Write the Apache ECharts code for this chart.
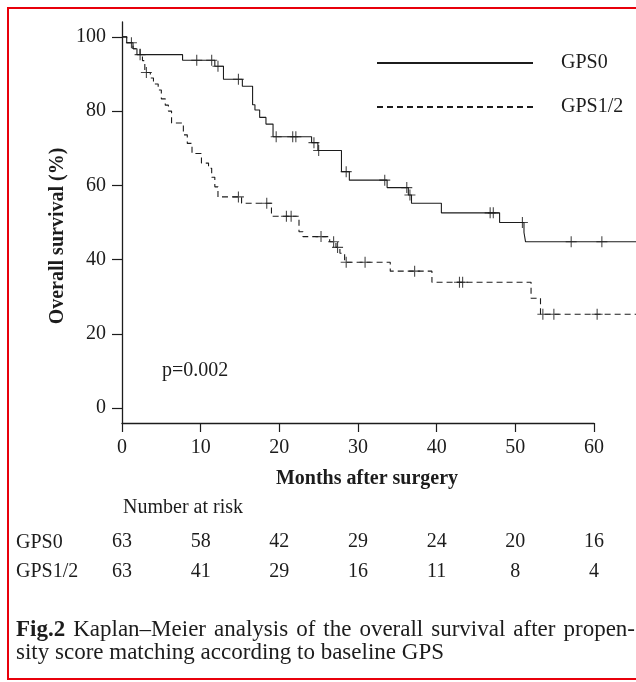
<!DOCTYPE html>
<html><head><meta charset="utf-8">
<script src="https://cdn.jsdelivr.net/npm/echarts@6/dist/echarts.min.js"></script>
<style>html,body{margin:0;padding:0;background:#fff}#c{width:636px;height:682px}</style>
</head><body><div id="c"></div>
<script>
// ---- data ----
const gps0Times = [0, 0.6, 1.4, 1.9, 7.7, 11.8, 12.9, 15.3, 16.6, 16.9, 17.5, 18.3, 19.2, 24.1, 24.9, 27.9, 28.9, 33.7, 36.4, 36.8, 40.6, 48.0, 51.1, 51.3, 65.34];
const gps0Surv  = [100, 98.4, 96.8, 95.2, 93.7, 92.1, 88.6, 86.7, 81.7, 80.3, 78.3, 76.5, 73.1, 71.5, 69.4, 63.7, 61.4, 59.4, 57.4, 55.2, 52.6, 50.0, 47.3, 44.8, 44.8];
const gps0CensorTimes = [1.2, 9.5, 11.4, 12.2, 14.8, 19.6, 21.7, 22.1, 24.4, 25.0, 28.5, 33.4, 36.2, 36.6, 46.8, 47.2, 50.9, 57.1, 61.0];
const gps0CensorSurv  = [98.4, 93.7, 93.7, 92.1, 88.6, 73.1, 73.1, 73.1, 71.5, 69.4, 63.7, 61.4, 59.4, 57.4, 52.6, 52.6, 50.0, 44.8, 44.8];

const gps12Times = [0, 0.6, 1.4, 2.3, 2.6, 2.9, 3.6, 4.0, 4.6, 5.0, 5.5, 5.9, 6.3, 7.8, 8.3, 8.9, 10.1, 11.0, 11.4, 11.8, 12.2, 15.2, 19.0, 22.5, 23.0, 26.4, 27.2, 27.7, 28.3, 34.1, 39.4, 52.0, 53.2, 65.34];
const gps12Surv  = [100, 98.4, 96.8, 95.2, 93.6, 90.4, 88.9, 87.3, 85.7, 83.3, 81.6, 80.0, 76.8, 73.6, 71.3, 68.6, 66.0, 64.6, 62.2, 59.6, 56.9, 55.2, 51.7, 47.5, 46.2, 44.8, 43.3, 41.7, 39.3, 36.9, 33.9, 29.6, 25.3, 25.3];
const gps12CensorTimes = [2.3, 3.1, 14.8, 18.4, 20.9, 21.5, 25.3, 26.9, 27.4, 28.5, 30.9, 37.2, 42.9, 43.3, 53.5, 54.9, 60.4];
const gps12CensorSurv  = [95.2, 90.4, 56.9, 55.2, 51.7, 51.7, 46.2, 44.8, 43.3, 39.3, 39.3, 36.9, 33.9, 33.9, 25.3, 25.3, 25.3];

const seriesNames = ['GPS0', 'GPS1/2'];
const xTickValues = [0, 10, 20, 30, 40, 50, 60];
const yTickValues = [0, 20, 40, 60, 80, 100];
const riskGPS0  = [63, 58, 42, 29, 24, 20, 16];
const riskGPS12 = [63, 41, 29, 16, 11, 8, 4];
const xTitle = 'Months after surgery';
const yTitle = 'Overall survival (%)';
const pText = 'p=0.002';
const riskTitle = 'Number at risk';
const captionBold = 'Fig.2';
const captionLine1 = 'Kaplan\u2013Meier analysis of the overall survival after propen-';
const captionLine2 = 'sity score matching according to baseline GPS';

// ---- helpers ----
const pairs = (a, b) => a.map((v, i) => [v, b[i]]);
const FONT = '"Liberation Serif", "Times New Roman", serif';
const INK = '#1c1c1c';
const plus = 'path://M0,5L10,5M5,0L5,10';

const chart = echarts.init(document.getElementById('c'), null, {renderer: 'canvas'});

// caption justification (line 1 is justified between 16 and 635)
const ctx = document.createElement('canvas').getContext('2d');
const measure = (t, bold) => { ctx.font = (bold ? 'bold ' : '') + '23px ' + FONT; return ctx.measureText(t).width; };
const words = [{t: captionBold, b: true}].concat(captionLine1.split(' ').map(t => ({t, b: false})));
const totalW = words.reduce((s, w) => s + measure(w.t, w.b), 0);
const capLeft = 16, capRight = 635;
const gap = (capRight - capLeft - totalW) / (words.length - 1);
let cx = capLeft;
const captionEls = [];
words.forEach(w => {
  captionEls.push({type: 'text', x: cx, y: 630, style: {text: w.t, font: (w.b ? 'bold ' : '') + '23px ' + FONT, fill: INK, align: 'left', verticalAlign: 'middle'}});
  cx += measure(w.t, w.b) + gap;
});
captionEls.push({type: 'text', x: capLeft, y: 653, style: {text: captionLine2, font: '23px ' + FONT, fill: INK, align: 'left', verticalAlign: 'middle'}});

const option = {
  backgroundColor: '#fff',
  animation: false,
  grid: [
    {left: 122, top: 22, width: 514, height: 401},
    {left: 122, top: 22, width: 472, height: 401}
  ],
  xAxis: [
    {type: 'value', gridIndex: 0, min: 0, max: 65.34, show: false},
    {type: 'value', gridIndex: 1, min: 0, max: 60, interval: 10, position: 'bottom',
     axisLine: {show: true, onZero: false, lineStyle: {color: INK, width: 1.3}},
     axisTick: {show: true, length: 9, lineStyle: {color: INK, width: 1.2}},
     axisLabel: {margin: 15, fontFamily: FONT, fontSize: 20, color: INK},
     splitLine: {show: false}},
    {type: 'value', gridIndex: 1, min: 0, max: 60, interval: 10, position: 'bottom', offset: 94,
     axisLine: {show: false}, axisTick: {show: false}, splitLine: {show: false},
     axisLabel: {margin: 15, fontFamily: FONT, fontSize: 20, color: INK,
       formatter: v => { const i = xTickValues.indexOf(v); return i >= 0 ? String(riskGPS0[i]) : ''; }}},
    {type: 'value', gridIndex: 1, min: 0, max: 60, interval: 10, position: 'bottom', offset: 124,
     axisLine: {show: false}, axisTick: {show: false}, splitLine: {show: false},
     axisLabel: {margin: 15, fontFamily: FONT, fontSize: 20, color: INK,
       formatter: v => { const i = xTickValues.indexOf(v); return i >= 0 ? String(riskGPS12[i]) : ''; }}}
  ],
  yAxis: [
    {type: 'value', gridIndex: 0, min: -4, max: 104,
     axisLine: {show: true, onZero: false, lineStyle: {color: INK, width: 1.3}},
     axisTick: {show: true, length: 10, customValues: yTickValues, lineStyle: {color: INK, width: 1.2}},
     axisLabel: {margin: 16, customValues: yTickValues, fontFamily: FONT, fontSize: 20, color: INK},
     splitLine: {show: false}},
    {type: 'value', gridIndex: 1, min: 0, max: 100, show: false}
  ],
  legend: {
    data: seriesNames,
    orient: 'vertical',
    left: 371, top: 47,
    itemWidth: 156, itemHeight: 14, itemGap: 22,
    selectedMode: false,
    itemStyle: {opacity: 0},
    textStyle: {fontFamily: FONT, fontSize: 20, color: INK, lineHeight: 22, padding: [0, 0, 0, 23]}
  },
  series: [
    {name: seriesNames[0], type: 'line', step: 'end', xAxisIndex: 0, yAxisIndex: 0,
     data: pairs(gps0Times, gps0Surv), symbol: 'none', showSymbol: false,
     lineStyle: {color: INK, width: 1.1, type: 'solid'}, itemStyle: {color: INK}},
    {name: seriesNames[1], type: 'line', step: 'end', xAxisIndex: 0, yAxisIndex: 0,
     data: pairs(gps12Times, gps12Surv), symbol: 'none', showSymbol: false,
     lineStyle: {color: INK, width: 1.1, type: [6, 4]}, itemStyle: {color: INK}},
    {name: 'GPS0 censored', type: 'scatter', xAxisIndex: 0, yAxisIndex: 0,
     data: pairs(gps0CensorTimes, gps0CensorSurv), symbol: plus, symbolSize: 11,
     itemStyle: {color: 'transparent', borderColor: INK, borderWidth: 1.1}},
    {name: 'GPS1/2 censored', type: 'scatter', xAxisIndex: 0, yAxisIndex: 0,
     data: pairs(gps12CensorTimes, gps12CensorSurv), symbol: plus, symbolSize: 11,
     itemStyle: {color: 'transparent', borderColor: INK, borderWidth: 1.1}}
  ],
  graphic: [
    {type: 'rect', shape: {x: 8, y: 8, width: 640, height: 671}, style: {fill: 'none', stroke: '#e8000b', lineWidth: 2}, silent: true},
    {type: 'text', x: 58, y: 236, rotation: Math.PI / 2, style: {text: yTitle, font: 'bold 20px ' + FONT, fill: INK, align: 'center', verticalAlign: 'middle'}},
    {type: 'text', x: 367, y: 479, style: {text: xTitle, font: 'bold 20px ' + FONT, fill: INK, align: 'center', verticalAlign: 'middle'}},
    {type: 'text', x: 162, y: 371, style: {text: pText, font: '20px ' + FONT, fill: INK, align: 'left', verticalAlign: 'middle'}},
    {type: 'text', x: 123, y: 508, style: {text: riskTitle, font: '20px ' + FONT, fill: INK, align: 'left', verticalAlign: 'middle'}},
    {type: 'text', x: 16, y: 543, style: {text: seriesNames[0], font: '20px ' + FONT, fill: INK, align: 'left', verticalAlign: 'middle'}},
    {type: 'text', x: 16, y: 572, style: {text: seriesNames[1], font: '20px ' + FONT, fill: INK, align: 'left', verticalAlign: 'middle'}}
  ].concat(captionEls)
};
chart.setOption(option);
</script></body></html>
